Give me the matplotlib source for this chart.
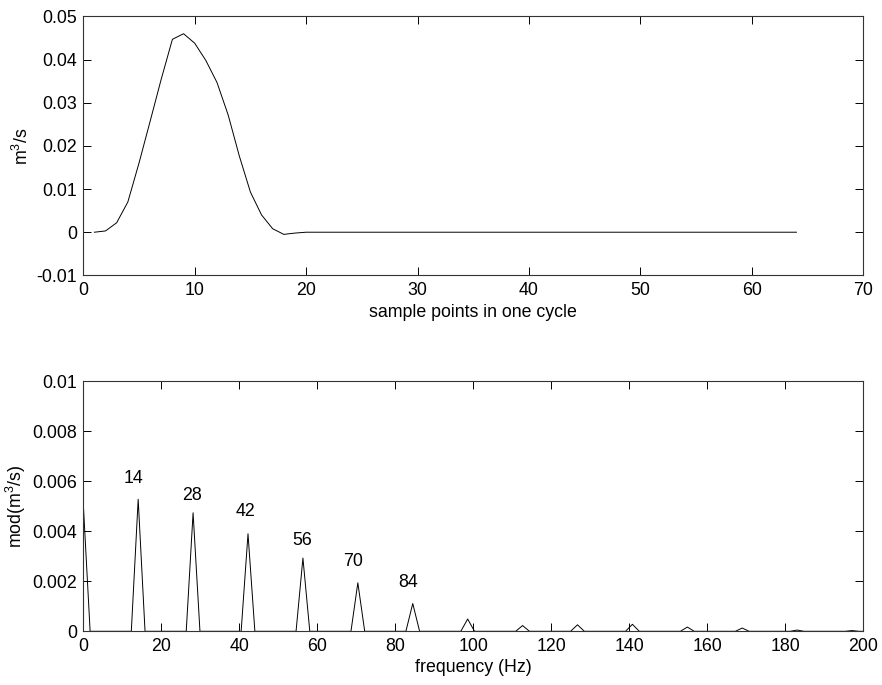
import numpy as np
import matplotlib
matplotlib.use('Agg')
import matplotlib.pyplot as plt
from matplotlib.ticker import FormatStrFormatter

plt.rcParams['font.family'] = ['Liberation Sans', 'DejaVu Sans']
plt.rcParams['mathtext.fontset'] = 'custom'
plt.rcParams['mathtext.rm'] = 'Liberation Sans'
plt.rcParams['mathtext.it'] = 'Liberation Sans'
plt.rcParams['font.size'] = 12.8

# flow over one cycle (64 samples)
flow_first = [0.0, 0.0003, 0.0022, 0.0070, 0.0160, 0.0257, 0.0355, 0.0447,
              0.0460, 0.0438, 0.0398, 0.0347, 0.0272, 0.0177, 0.0093, 0.0040,
              0.0008, -0.0005, -0.0002, 0.0]
flow = flow_first + [0.0] * 44
samples = np.arange(1, len(flow) + 1)

# spectrum: bin spacing and harmonic peaks (every 8th bin)
df = 1.76
n_bins = 121
peak_bins = [0, 8, 16, 24, 32, 40, 48, 56, 64, 72, 80, 88, 96, 104, 112]
peak_amps = [0.00512, 0.00528, 0.00474, 0.00390, 0.00293, 0.00194, 0.00111,
             0.00049, 0.00023, 0.00026, 0.00028, 0.00017, 0.00013, 0.00005, 0.00003]

amps = np.zeros(n_bins)
amps[peak_bins] = peak_amps
freqs = np.arange(n_bins) * df

label_text = ['14', '28', '42', '56', '70', '84']
label_x = [12.8, 27.9, 41.6, 56.0, 69.2, 83.3]
label_y = [0.00612, 0.00543, 0.00479, 0.00365, 0.00279, 0.00194]

fig = plt.figure(figsize=(8.82, 6.85), dpi=100)
ax1 = fig.add_axes([0.0944, 0.598, 0.8844, 0.378])
ax2 = fig.add_axes([0.0944, 0.0784, 0.8844, 0.365])

for ax in (ax1, ax2):
    ax.tick_params(direction='in', length=5.6, width=0.7, top=True, right=True,
                   labelsize=12.8)
    ax.tick_params(axis='x', pad=4.5)
    ax.tick_params(axis='y', pad=4.5)
    for s in ax.spines.values():
        s.set_linewidth(0.8)
        s.set_color('#333333')

ax1.plot(samples, flow, color='black', lw=0.7)
ax1.set_xlim(0, 70)
ax1.set_ylim(-0.01, 0.05)
ax1.set_xticks(np.arange(0, 71, 10))
ax1.set_yticks(np.arange(-0.01, 0.051, 0.01))
ax1.yaxis.set_major_formatter(FormatStrFormatter('%g'))
ax1.set_xlabel('sample points in one cycle', labelpad=4)
ax1.set_ylabel('m$^3$/s', labelpad=3)

ax2.plot(freqs, amps, color='black', lw=0.7)
ax2.set_xlim(0, 200)
ax2.set_ylim(0, 0.01)
ax2.set_xticks(np.arange(0, 201, 20))
ax2.set_yticks(np.arange(0, 0.0101, 0.002))
ax2.yaxis.set_major_formatter(FormatStrFormatter('%g'))
ax2.set_xlabel('frequency (Hz)', labelpad=3)
ax2.set_ylabel('mod(m$^3$/s)', labelpad=3)
for t, x, y in zip(label_text, label_x, label_y):
    ax2.text(x, y, t, ha='center', va='center', fontsize=12.8)

fig.savefig('out.png', dpi=100)
